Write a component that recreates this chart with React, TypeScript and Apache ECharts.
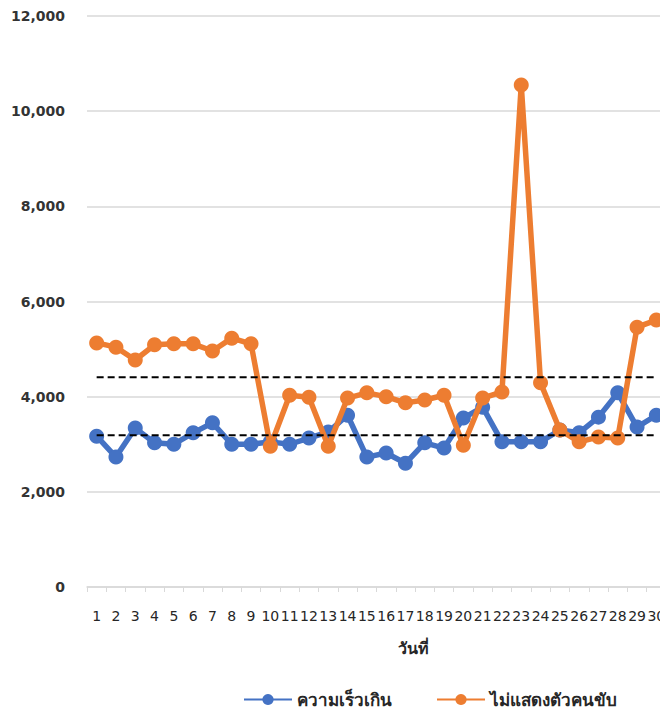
import React, { useEffect, useRef } from "react";
import * as echarts from "echarts";

const days = Array.from({ length: 30 }, (_, i) => String(i + 1));
const speeding = [3170, 2730, 3340, 3030, 3000, 3240, 3450, 3000, 3000, 3050, 3000, 3130, 3260, 3610, 2730, 2815, 2600, 3030, 2920, 3550, 3780, 3050, 3050, 3050, 3300, 3240, 3570, 4080, 3360, 3610];
const noDriver = [5130, 5040, 4770, 5090, 5110, 5110, 4960, 5230, 5110, 2960, 4030, 3990, 2960, 3970, 4080, 4000, 3870, 3930, 4030, 2980, 3970, 4100, 10550, 4290, 3300, 3050, 3150, 3130, 5460, 5610];
const speedingAvg = 3190;
const noDriverAvg = 4410;
const seriesNames = ["ความเร็วเกิน", "ไม่แสดงตัวคนขับ"];
const xTitle = "วันที่";

export default function App() {
  const ref = useRef<HTMLDivElement>(null);
  useEffect(() => {
    if (!ref.current) return;
    document.body.style.margin = "0";
    const chart = echarts.init(ref.current, null, { renderer: "svg" });
    const avgLine = (v: number) => days.map(() => v);
    chart.setOption({
      animation: false,
      backgroundColor: "#fff",
      grid: { left: 87, width: 579, top: 16, bottom: 123, containLabel: false, outerBoundsMode: "none" },
      xAxis: {
        type: "category",
        data: days,
        boundaryGap: true,
        axisLine: { show: true, lineStyle: { color: "#d9d9d9", width: 1.5 } },
        axisTick: { show: true, length: 5, lineStyle: { color: "#d9d9d9" } },
        axisLabel: { interval: 0, margin: 22, color: "#262626", fontSize: 14, fontFamily: "DejaVu Sans" },
        splitLine: { show: false },
      },
      yAxis: {
        type: "value",
        min: 0,
        max: 12000,
        interval: 2000,
        axisLine: { show: false },
        axisTick: { show: false },
        axisLabel: {
          margin: 22,
          color: "#333",
          fontSize: 14,
          fontWeight: "bold",
          fontFamily: "DejaVu Sans",
          formatter: (v: number) => v.toLocaleString("en-US"),
        },
        splitLine: { lineStyle: { color: "#d9d9d9", width: 1.5 } },
      },
      legend: {
        data: seriesNames,
        left: 238,
        top: 686,
        itemWidth: 48,
        itemHeight: 14,
        itemGap: 44,
        textStyle: { fontSize: 17, color: "#262626", fontWeight: "bold", fontFamily: "Noto Sans, sans-serif" },
      },
      graphic: [
        {
          type: "text",
          x: 413,
          y: 648,
          style: {
            text: xTitle,
            fontSize: 16,
            fontWeight: "bold",
            fill: "#262626",
            align: "center",
            verticalAlign: "middle",
            fontFamily: "Noto Sans, sans-serif",
          },
        },
      ],
      series: [
        {
          name: seriesNames[0],
          type: "line",
          data: speeding,
          symbol: "circle",
          symbolSize: 15,
          lineStyle: { color: "#4472C4", width: 5.5 },
          itemStyle: { color: "#4472C4" },
          z: 3,
        },
        {
          name: seriesNames[1],
          type: "line",
          data: noDriver,
          symbol: "circle",
          symbolSize: 15,
          lineStyle: { color: "#ED7D31", width: 5.5 },
          itemStyle: { color: "#ED7D31" },
          z: 4,
        },
        {
          name: "avg1",
          type: "line",
          data: avgLine(speedingAvg),
          symbol: "none",
          lineStyle: { color: "#000", width: 2, type: [7, 4] },
          z: 5,
        },
        {
          name: "avg2",
          type: "line",
          data: avgLine(noDriverAvg),
          symbol: "none",
          lineStyle: { color: "#000", width: 2, type: [7, 4] },
          z: 5,
        },
      ],
    });
    return () => chart.dispose();
  }, []);
  return <div ref={ref} style={{ width: 660, height: 710, position: "absolute", left: 0, top: 0 }} />;
}
